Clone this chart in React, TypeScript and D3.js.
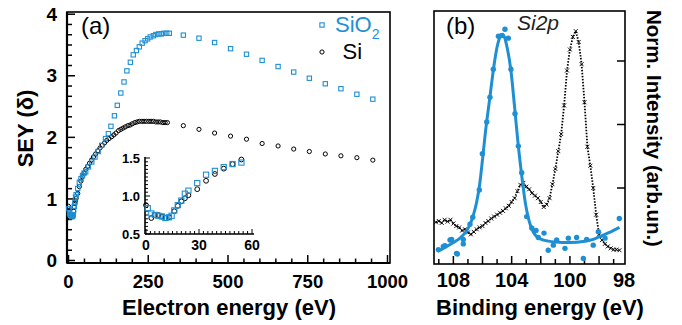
import * as d3 from "d3";

const BLUE = "#1f8fd4";
const FONT = "'Liberation Sans', Arial, Helvetica, sans-serif";

// ---- panel (a): SEY vs electron energy ----
const sio2Energy = [
  1, 3, 5, 7, 9, 11, 13, 15, 16, 18, 20, 22, 24, 29, 34, 39, 44, 49, 54,
  62, 73, 83, 93, 104, 116, 125, 133, 144, 153, 164, 174, 183, 194, 203, 213,
  222, 231, 240, 248, 256, 266, 274, 283, 291, 299, 308, 316,
  360, 409, 458, 508, 558, 607, 657, 706, 755, 805, 854, 904, 954,
];
const sio2Sey = [
  0.84, 0.77, 0.75, 0.74, 0.73, 0.71, 0.72, 0.74, 0.81, 0.88, 0.94, 1.03, 1.07, 1.17, 1.27, 1.33, 1.38, 1.42, 1.44,
  1.52, 1.6, 1.68, 1.77, 1.87, 1.98, 2.06, 2.18, 2.35, 2.52, 2.72, 2.9, 3.08, 3.22, 3.34, 3.41,
  3.47, 3.53, 3.57, 3.6, 3.63, 3.65, 3.67, 3.68, 3.68, 3.69, 3.69, 3.69,
  3.66, 3.61, 3.54, 3.44, 3.35, 3.25, 3.15, 3.06, 2.96, 2.87, 2.79, 2.7, 2.62,
];

const siEnergy = [
  0, 3, 5, 7, 9, 11, 13, 16, 18, 20, 22, 24, 29, 34, 39, 44, 49, 54,
  60, 66, 72, 78, 85, 92, 99, 106, 113, 120, 127, 135, 142, 149, 157, 164, 171,
  178, 186, 193, 200, 208, 215, 222, 230, 237, 244, 252, 259, 266, 274, 281,
  288, 296, 303, 310,
  360, 409, 458, 508, 558, 607, 657, 706, 755, 805, 854, 904, 954,
];
const siSey = [
  0.88, 0.71, 0.75, 0.75, 0.73, 0.71, 0.72, 0.8, 0.87, 0.93, 0.97, 1.01, 1.09, 1.2, 1.29, 1.36, 1.42, 1.48,
  1.53, 1.58, 1.63, 1.68, 1.73, 1.78, 1.83, 1.87, 1.91, 1.95, 1.98, 2.01, 2.04, 2.07, 2.11, 2.13, 2.15,
  2.17, 2.19, 2.2, 2.22, 2.24, 2.25, 2.26, 2.26, 2.26, 2.26, 2.26, 2.26, 2.26, 2.25, 2.25,
  2.25, 2.24, 2.24, 2.24,
  2.19, 2.13, 2.07, 2.02, 1.97, 1.9, 1.86, 1.81, 1.77, 1.73, 1.7, 1.67, 1.63,
];

// inset (0-60 eV)
const insetSio2Energy = [1, 3, 5, 7, 9, 11, 13, 14.5, 16, 18, 20, 22, 24, 29, 34, 39, 44, 49, 54];
const insetSio2Sey = [0.84, 0.77, 0.75, 0.74, 0.73, 0.71, 0.72, 0.74, 0.81, 0.88, 0.94, 1.03, 1.07, 1.17, 1.28, 1.33, 1.38, 1.42, 1.44];
const insetSiEnergy = [0, 3, 5, 7, 9, 11, 13, 16, 18, 20, 22, 24, 29, 34, 39, 44, 49, 54];
const insetSiSey = [0.88, 0.71, 0.75, 0.75, 0.73, 0.71, 0.72, 0.8, 0.87, 0.93, 0.97, 1.01, 1.09, 1.2, 1.29, 1.36, 1.42, 1.48];

const xTicksA = [0, 250, 500, 750, 1000];
const yTicksA = [0, 1, 2, 3, 4];
const xTicksInset = [0, 30, 60];
const yTicksInset = [0.5, 1.0, 1.5];

// ---- panel (b): Si2p XPS ----
const sio2BindE = [
  109.03, 108.69, 108.58, 108.23, 108.12, 107.78, 107.73, 107.32, 107.32, 106.86, 106.67,
  106.22, 106.01, 105.71, 105.49, 105.26, 104.91, 104.68, 104.46, 104.23, 104.05, 103.77,
  103.54, 103.31, 102.97, 102.62, 102.33, 102.17, 101.78, 101.49, 101.14, 100.91, 100.34,
  100.11, 99.54, 99.08, 98.85, 98.4, 98.05, 97.59, 96.61,
];
const sio2Counts = [
  0.03, 0.08, 0.09, 0.18, 0.19, -0.03, -0.04, 0.19, 0.12, 0.43, 0.54,
  0.97, 1.54, 2.04, 2.43, 2.87, 3.39, 3.4, 3.5, 3.36, 2.87, 2.17,
  1.66, 1.24, 0.55, 0.37, 0.33, 0.22, 0.29, 0.02, 0.1, 0.18, 0.05,
  0.21, 0.22, -0.11, 0.19, 0.1, 0.31, 0.21, 0.52,
];
const fitBindE = [
  109.1, 108.6, 108.0, 107.5, 107.0, 106.7, 106.4, 106.2, 106.0, 105.8, 105.5, 105.2, 105.0,
  104.8, 104.65, 104.5, 104.3, 104.05, 103.8, 103.55, 103.3, 103.05, 102.8, 102.5, 102.2,
  101.8, 101.0, 100.0, 99.0, 98.4, 97.8, 97.2, 96.6,
];
const fitCounts = [
  0.0, 0.06, 0.14, 0.22, 0.36, 0.52, 0.78, 1.05, 1.45, 1.88, 2.42, 2.95, 3.22,
  3.38, 3.42, 3.38, 3.2, 2.85, 2.28, 1.68, 1.18, 0.75, 0.48, 0.3, 0.22,
  0.18, 0.15, 0.14, 0.16, 0.19, 0.25, 0.31, 0.38,
];
const siBindE = [
  109.2, 109.0, 108.8, 108.6, 108.4, 108.2, 108.0, 107.8, 107.6, 107.4, 107.2, 107.0,
  106.8, 106.6, 106.4, 106.2, 106.0, 105.8, 105.6, 105.4, 105.2, 105.0, 104.8, 104.6,
  104.4, 104.2, 104.0, 103.8, 103.6, 103.4, 103.2, 103.0, 102.8, 102.6, 102.4, 102.2,
  102.0, 101.8, 101.6, 101.4, 101.2, 101.0, 100.8, 100.6, 100.4, 100.2, 100.0, 99.8,
  99.6, 99.4, 99.2, 99.0, 98.8, 98.6, 98.4, 98.2, 98.0, 97.8, 97.6, 97.4, 97.2, 97.0,
  96.8, 96.6,
];
const siCounts = [
  0.46, 0.48, 0.45, 0.5, 0.47, 0.5, 0.44, 0.4, 0.38, 0.33, 0.35, 0.3,
  0.27, 0.31, 0.35, 0.38, 0.4, 0.45, 0.48, 0.52, 0.55, 0.58, 0.61, 0.64,
  0.68, 0.72, 0.78, 0.84, 0.95, 1.05, 1.08, 1.02, 0.98, 0.92, 0.88, 0.84,
  0.78, 0.7, 0.74, 0.84, 1.06, 1.3, 1.58, 1.85, 2.3, 2.85, 3.18, 3.38,
  3.47, 3.3, 2.95, 2.35, 1.65, 1.35, 1.0, 0.58, 0.27, 0.18, 0.12, 0.08, 0.05, 0.03,
  0.03, 0.02,
];
const xTicksB = [108, 104, 100];
const yTicksB = [1, 2, 3];

export default function App() {
  // panel (a) geometry
  const a = { left: 67, right: 390, top: 12, bottom: 263 };
  const xA = d3.scaleLinear().domain([0, 1000]).range([68.5, 387.5]);
  const yA = d3.scaleLinear().domain([0, 4]).range([260.5, 14.2]);
  const xMinorA = d3.range(0, 1001, 50);
  const yMinorA = d3.range(0, 25).map((i) => i / 6);

  const xI = d3.scaleLinear().domain([0, 60]).range([146, 252]);
  const yI = d3.scaleLinear().domain([0.5, 1.5]).range([234, 158]);
  const xMinorI = d3.range(0, 61, 2.5);
  const yMinorI = d3.range(0, 21).map((i) => 0.5 + i * 0.05);

  // panel (b) geometry
  const b = { left: 434, right: 625, top: 11, bottom: 264 };
  const xB = d3.scaleLinear().domain([109.33, 96.22]).range([b.left, b.right]);
  const yB = d3.scaleLinear().domain([0, 1]).range([251.5, 188]);
  const xMinorB = d3.range(97, 110, 1);

  const fitLine = d3
    .line<number>()
    .x((_, i) => xB(fitBindE[i]))
    .y((d) => yB(d))
    .curve(d3.curveMonotoneX)(fitCounts);
  const siLine = d3
    .line<number>()
    .x((_, i) => xB(siBindE[i]))
    .y((d) => yB(d))(siCounts);

  const sq = (cx: number, cy: number, s: number, key: string) => (
    <rect key={key} x={cx - s / 2} y={cy - s / 2} width={s} height={s}
      fill="none" stroke={BLUE} strokeWidth={1.1} />
  );

  return (
    <div style={{ position: "absolute", left: 0, top: 0 }}>
      <svg width={682} height={325} style={{ display: "block", background: "#fff", fontFamily: FONT }}>
        {/* ===== panel (a) ===== */}
        <g>
          {/* minor ticks */}
          {xMinorA.map((t) => (
            <line key={"xa" + t} x1={xA(t)} x2={xA(t)} y1={a.bottom}
              y2={a.bottom - (t % 250 === 0 ? 8 : 4.5)} stroke="#000" strokeWidth={1.5} />
          ))}
          {yMinorA.map((t, i) => (
            <line key={"ya" + i} x1={a.left} x2={a.left + (i % 6 === 0 ? 8 : 5)}
              y1={yA(t)} y2={yA(t)} stroke="#000" strokeWidth={1.5} />
          ))}
          <rect x={a.left} y={a.top} width={a.right - a.left} height={a.bottom - a.top}
            fill="none" stroke="#000" strokeWidth={1.6} />
          <line x1={a.left} x2={a.left} y1={a.top} y2={a.bottom} stroke="#000" strokeWidth={2.2} />
          <line x1={a.left} x2={a.right} y1={a.bottom} y2={a.bottom} stroke="#000" strokeWidth={2.2} />

          {xTicksA.map((t) => (
            <text key={"xl" + t} x={xA(t)} y={288} textAnchor="middle" fontSize={18.5} fontWeight="bold">{t}</text>
          ))}
          {yTicksA.map((t) => (
            <text key={"yl" + t} x={57} y={yA(t) + 6.6} textAnchor="end" fontSize={19} fontWeight="bold">{t}</text>
          ))}
          <text x={229} y={315} textAnchor="middle" fontSize={22} fontWeight="bold">Electron energy (eV)</text>
          <text transform="translate(33,128.5) rotate(-90)" textAnchor="middle" fontSize={22} fontWeight="bold">SEY (δ)</text>
          <text x={81} y={34} fontSize={24}>(a)</text>

          {/* data */}
          {siEnergy.map((e, i) => (
            <circle key={"si" + i} cx={xA(e)} cy={yA(siSey[i])} r={2.1} fill="none" stroke="#000" strokeWidth={1} />
          ))}
          {sio2Energy.map((e, i) => sq(xA(e), yA(sio2Sey[i]), 4.3, "so" + i))}

          {/* legend */}
          {sq(322, 25, 4.3, "lg1")}
          <text x={335} y={32} fontSize={22} fill={BLUE}>SiO<tspan fontSize={14} dy={7}>2</tspan></text>
          <circle cx={322} cy={52} r={2.1} fill="none" stroke="#000" strokeWidth={1} />
          <text x={342.5} y={58.5} fontSize={22}>Si</text>

          {/* inset */}
          {xMinorI.map((t) => (
            <line key={"xi" + t} x1={xI(t)} x2={xI(t)} y1={234} y2={234 - (t % 30 === 0 ? 5 : 3)} stroke="#000" strokeWidth={1} />
          ))}
          {yMinorI.map((t, i) => (
            <line key={"yi" + i} x1={145} x2={145 + (i % 10 === 0 ? 5 : 3)} y1={yI(t)} y2={yI(t)} stroke="#000" strokeWidth={1} />
          ))}
          <line x1={145} x2={145} y1={157} y2={234} stroke="#000" strokeWidth={1.6} />
          <line x1={145} x2={254} y1={234} y2={234} stroke="#000" strokeWidth={1.6} />
          {xTicksInset.map((t) => (
            <text key={"xil" + t} x={xI(t)} y={250} textAnchor="middle" fontSize={14} fontWeight="bold">{t}</text>
          ))}
          {yTicksInset.map((t) => (
            <text key={"yil" + t} x={140} y={yI(t) + 4.7} textAnchor="end" fontSize={13} fontWeight="bold">{t.toFixed(1)}</text>
          ))}
          {insetSiEnergy.map((e, i) => (
            <circle key={"isi" + i} cx={xI(e)} cy={yI(insetSiSey[i])} r={2.4} fill="none" stroke="#000" strokeWidth={1} />
          ))}
          {insetSio2Energy.map((e, i) => sq(xI(e), yI(insetSio2Sey[i]), 5.2, "iso" + i))}
        </g>

        {/* ===== panel (b) ===== */}
        <g>
          {xMinorB.map((t) => (
            <line key={"xb" + t} x1={xB(t)} x2={xB(t)} y1={b.bottom}
              y2={b.bottom - (t % 2 === 0 ? 8 : 5)} stroke="#000" strokeWidth={1.5} />
          ))}
          {yTicksB.map((t) => (
            <line key={"yb" + t} x1={b.right} x2={b.right - 8} y1={yB(t)} y2={yB(t)} stroke="#000" strokeWidth={1.5} />
          ))}
          <rect x={b.left} y={b.top} width={b.right - b.left} height={b.bottom - b.top}
            fill="none" stroke="#000" strokeWidth={1.6} />

          <path d={siLine ?? ""} fill="none" stroke="#000" strokeWidth={1.8} strokeDasharray="1.5,1.5" />
          {siBindE.map((e, i) => {
            const cx = xB(e);
            const cy = yB(siCounts[i]);
            return (
              <path key={"sx" + i} d={`M${cx - 2},${cy - 2}L${cx + 2},${cy + 2}M${cx - 2},${cy + 2}L${cx + 2},${cy - 2}`}
                stroke="#000" strokeWidth={0.9} />
            );
          })}
          <path d={fitLine ?? ""} fill="none" stroke={BLUE} strokeWidth={3} />
          {sio2BindE.map((e, i) => (
            <circle key={"sb" + i} cx={xB(e)} cy={yB(sio2Counts[i])} r={2.7} fill={BLUE} />
          ))}

          {xTicksB.map((t) => (
            <text key={"xbl" + t} x={xB(t)} y={287} textAnchor="middle" fontSize={20} fontWeight="bold">{t}</text>
          ))}
          {/* the last label sits at the right edge in the source figure */}
          <text x={b.right - 1} y={287} textAnchor="middle" fontSize={20} fontWeight="bold">98</text>
          <text x={540} y={315} textAnchor="middle" fontSize={22} fontWeight="bold">Binding energy (eV)</text>
          <text transform="translate(647,128.5) rotate(90)" textAnchor="middle" fontSize={20.5} fontWeight="bold">Norm. Intensity (arb.un.)</text>
          <text x={446} y={34} fontSize={24}>(b)</text>
          <text x={517} y={30} fontSize={21} fontStyle="italic" fill="#222">Si2p</text>
        </g>
      </svg>
    </div>
  );
}
